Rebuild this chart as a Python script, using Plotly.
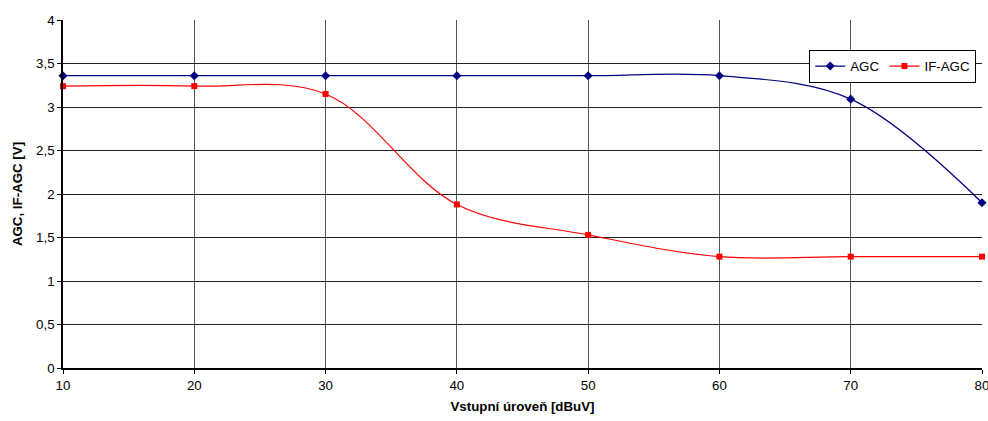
import plotly.graph_objects as go

# Input level in dBuV
levels = [10, 20, 30, 40, 50, 60, 70, 80]
# Control voltages in V
agc = [3.36, 3.36, 3.36, 3.36, 3.36, 3.36, 3.09, 1.90]
if_agc = [3.24, 3.24, 3.15, 1.88, 1.53, 1.28, 1.28, 1.28]

FONT = "Liberation Sans, Arial, sans-serif"
FS = 13.3

fig = go.Figure()
fig.add_trace(go.Scatter(
    x=levels, y=agc, name="AGC", mode="lines+markers",
    line=dict(color="#000080", width=1.2, shape="spline", smoothing=1.0),
    marker=dict(symbol="diamond", size=7, color="#000080"),
    cliponaxis=False,
))
fig.add_trace(go.Scatter(
    x=levels, y=if_agc, name="IF-AGC", mode="lines+markers",
    line=dict(color="#ff0000", width=1.2, shape="spline", smoothing=1.0),
    marker=dict(symbol="square", size=6, color="#ff0000"),
    cliponaxis=False,
))

fig.update_layout(
    width=988, height=421,
    margin=dict(l=63, r=6, t=20, b=53),
    paper_bgcolor="white", plot_bgcolor="white",
    separators=", ",
    font=dict(family=FONT, size=FS, color="black"),
    showlegend=True,
    legend=dict(
        orientation="h", x=0.812, y=0.914, xanchor="left", yanchor="top",
        bordercolor="black", borderwidth=1, bgcolor="white",
        font=dict(family=FONT, size=FS), itemwidth=30,
        tracegroupgap=0,
    ),
)
fig.update_xaxes(
    range=[10, 80], dtick=10, tick0=10,
    showgrid=True, gridcolor="#555555", gridwidth=1,
    showline=True, linecolor="black", linewidth=1.5,
    ticks="outside", ticklen=4, tickcolor="black",
    ticklabeloverflow="allow", automargin=False,
    zeroline=False,
    title=dict(text="<b>Vstupní úroveň [dBuV]</b>", font=dict(family=FONT, size=FS), standoff=10),
)
fig.update_yaxes(
    range=[0, 4], dtick=0.5,
    showgrid=True, gridcolor="#222222", gridwidth=1,
    showline=True, linecolor="black", linewidth=1.5,
    ticks="outside", ticklen=4, tickcolor="black",
    automargin=False,
    zeroline=False,
    title=dict(text="<b>AGC, IF-AGC [V]</b>", font=dict(family=FONT, size=FS), standoff=10),
)

fig.write_html("out.html")
